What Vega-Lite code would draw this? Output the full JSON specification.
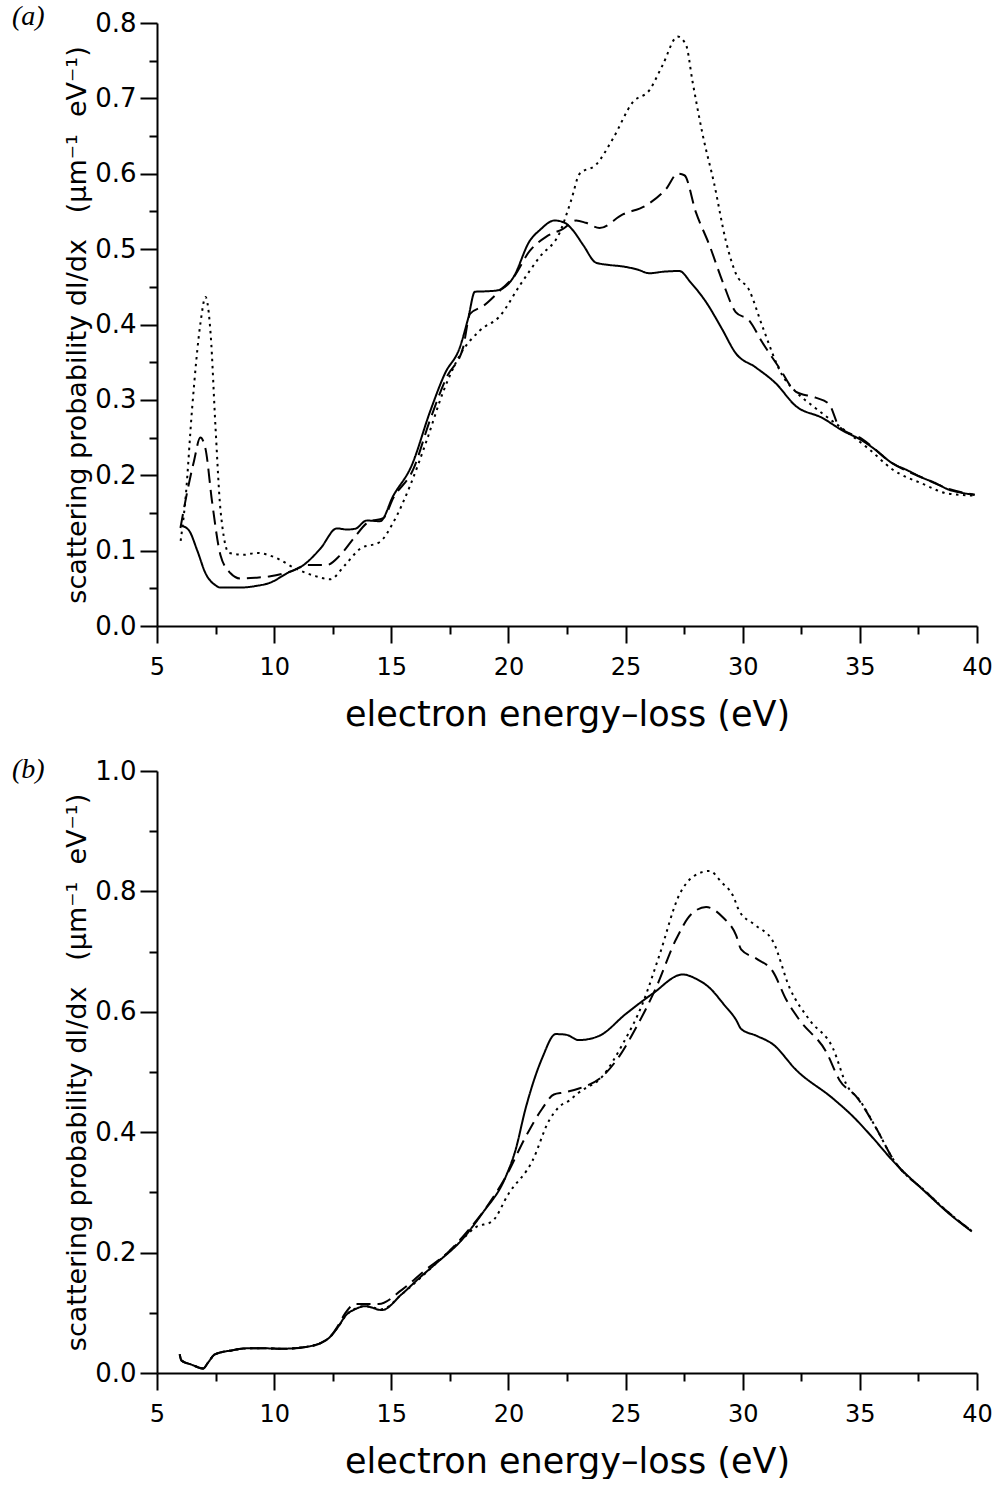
{
  "$schema": "https://vega.github.io/schema/vega-lite/v6.json",
  "background": "white",
  "padding": {"left": 12, "top": 3, "right": 5, "bottom": 0},
  "spacing": 24,
  "config": {
    "view": {"stroke": null},
    "font": "DejaVu Sans",
    "axis": {
      "grid": false,
      "domainColor": "black",
      "domainWidth": 2,
      "tickColor": "black",
      "tickWidth": 2,
      "labelColor": "black",
      "titleColor": "black",
      "labelFont": "DejaVu Sans",
      "titleFont": "DejaVu Sans",
      "titleFontWeight": "normal",
      "labelOverlap": false,
      "labelBound": false,
      "labelFlush": false
    }
  },
  "datasets": {
    "a": [
      {"x":6.05,"y":0.133,"s":"solid"},{"x":6.36,"y":0.127,"s":"solid"},{"x":6.72,"y":0.100,"s":"solid"},{"x":7.07,"y":0.070,"s":"solid"},{"x":7.5,"y":0.054,"s":"solid"},{"x":7.71,"y":0.051,"s":"solid"},{"x":8.56,"y":0.051,"s":"solid"},{"x":9.2,"y":0.053,"s":"solid"},{"x":9.84,"y":0.0576,"s":"solid"},{"x":10.55,"y":0.070,"s":"solid"},{"x":11.26,"y":0.081,"s":"solid"},{"x":11.97,"y":0.1025,"s":"solid"},{"x":12.68,"y":0.1295,"s":"solid"},{"x":13.1,"y":0.128,"s":"solid"},{"x":13.46,"y":0.129,"s":"solid"},{"x":13.95,"y":0.140,"s":"solid"},{"x":14.52,"y":0.139,"s":"solid"},{"x":15.09,"y":0.173,"s":"solid"},{"x":15.87,"y":0.213,"s":"solid"},{"x":16.65,"y":0.284,"s":"solid"},{"x":17.29,"y":0.335,"s":"solid"},{"x":17.93,"y":0.370,"s":"solid"},{"x":18.28,"y":0.408,"s":"solid"},{"x":18.57,"y":0.4435,"s":"solid"},{"x":19.0,"y":0.444,"s":"solid"},{"x":19.49,"y":0.445,"s":"solid"},{"x":20.2,"y":0.462,"s":"solid"},{"x":20.91,"y":0.511,"s":"solid"},{"x":21.33,"y":0.525,"s":"solid"},{"x":21.97,"y":0.538,"s":"solid"},{"x":22.4,"y":0.535,"s":"solid"},{"x":22.75,"y":0.525,"s":"solid"},{"x":23.2,"y":0.505,"s":"solid"},{"x":23.74,"y":0.482,"s":"solid"},{"x":24.3,"y":0.479,"s":"solid"},{"x":24.88,"y":0.477,"s":"solid"},{"x":25.5,"y":0.473,"s":"solid"},{"x":26.02,"y":0.468,"s":"solid"},{"x":26.6,"y":0.470,"s":"solid"},{"x":27.29,"y":0.471,"s":"solid"},{"x":27.8,"y":0.455,"s":"solid"},{"x":28.43,"y":0.430,"s":"solid"},{"x":29.1,"y":0.395,"s":"solid"},{"x":29.7,"y":0.362,"s":"solid"},{"x":30.56,"y":0.343,"s":"solid"},{"x":31.41,"y":0.322,"s":"solid"},{"x":32.26,"y":0.292,"s":"solid"},{"x":33.4,"y":0.276,"s":"solid"},{"x":34.25,"y":0.2595,"s":"solid"},{"x":35.1,"y":0.246,"s":"solid"},{"x":35.7,"y":0.233,"s":"solid"},{"x":36.38,"y":0.216,"s":"solid"},{"x":37.0,"y":0.207,"s":"solid"},{"x":37.65,"y":0.197,"s":"solid"},{"x":38.2,"y":0.190,"s":"solid"},{"x":38.79,"y":0.181,"s":"solid"},{"x":39.3,"y":0.177,"s":"solid"},{"x":39.9,"y":0.174,"s":"solid"},
      {"x":6.0,"y":0.13,"s":"dashed"},{"x":6.22,"y":0.167,"s":"dashed"},{"x":6.58,"y":0.219,"s":"dashed"},{"x":6.85,"y":0.250,"s":"dashed"},{"x":7.07,"y":0.235,"s":"dashed"},{"x":7.35,"y":0.165,"s":"dashed"},{"x":7.71,"y":0.094,"s":"dashed"},{"x":8.14,"y":0.070,"s":"dashed"},{"x":8.56,"y":0.063,"s":"dashed"},{"x":9.2,"y":0.064,"s":"dashed"},{"x":9.84,"y":0.066,"s":"dashed"},{"x":10.83,"y":0.0738,"s":"dashed"},{"x":11.4,"y":0.081,"s":"dashed"},{"x":12.25,"y":0.081,"s":"dashed"},{"x":12.82,"y":0.094,"s":"dashed"},{"x":13.39,"y":0.116,"s":"dashed"},{"x":14.03,"y":0.138,"s":"dashed"},{"x":14.66,"y":0.143,"s":"dashed"},{"x":15.09,"y":0.170,"s":"dashed"},{"x":15.94,"y":0.208,"s":"dashed"},{"x":16.65,"y":0.273,"s":"dashed"},{"x":17.36,"y":0.330,"s":"dashed"},{"x":18.07,"y":0.370,"s":"dashed"},{"x":18.36,"y":0.414,"s":"dashed"},{"x":18.92,"y":0.4245,"s":"dashed"},{"x":19.77,"y":0.449,"s":"dashed"},{"x":20.2,"y":0.462,"s":"dashed"},{"x":20.91,"y":0.4977,"s":"dashed"},{"x":21.62,"y":0.5166,"s":"dashed"},{"x":22.33,"y":0.527,"s":"dashed"},{"x":22.89,"y":0.538,"s":"dashed"},{"x":23.3,"y":0.535,"s":"dashed"},{"x":23.89,"y":0.528,"s":"dashed"},{"x":24.88,"y":0.546,"s":"dashed"},{"x":25.87,"y":0.558,"s":"dashed"},{"x":26.73,"y":0.580,"s":"dashed"},{"x":27.22,"y":0.600,"s":"dashed"},{"x":27.51,"y":0.598,"s":"dashed"},{"x":28.0,"y":0.549,"s":"dashed"},{"x":28.57,"y":0.506,"s":"dashed"},{"x":29.14,"y":0.457,"s":"dashed"},{"x":29.7,"y":0.4165,"s":"dashed"},{"x":30.27,"y":0.4056,"s":"dashed"},{"x":30.84,"y":0.376,"s":"dashed"},{"x":31.55,"y":0.343,"s":"dashed"},{"x":32.26,"y":0.311,"s":"dashed"},{"x":33.11,"y":0.303,"s":"dashed"},{"x":33.68,"y":0.2947,"s":"dashed"},{"x":34.11,"y":0.265,"s":"dashed"},{"x":35.1,"y":0.248,"s":"dashed"},{"x":36.38,"y":0.216,"s":"dashed"},{"x":37.65,"y":0.197,"s":"dashed"},{"x":38.79,"y":0.182,"s":"dashed"},{"x":39.9,"y":0.174,"s":"dashed"},
      {"x":6.01,"y":0.113,"s":"dotted"},{"x":6.22,"y":0.170,"s":"dotted"},{"x":6.5,"y":0.289,"s":"dotted"},{"x":6.86,"y":0.403,"s":"dotted"},{"x":7.07,"y":0.4365,"s":"dotted"},{"x":7.29,"y":0.387,"s":"dotted"},{"x":7.5,"y":0.262,"s":"dotted"},{"x":7.71,"y":0.154,"s":"dotted"},{"x":8.07,"y":0.097,"s":"dotted"},{"x":8.7,"y":0.0945,"s":"dotted"},{"x":9.27,"y":0.097,"s":"dotted"},{"x":9.98,"y":0.0917,"s":"dotted"},{"x":10.97,"y":0.0754,"s":"dotted"},{"x":11.68,"y":0.067,"s":"dotted"},{"x":12.39,"y":0.062,"s":"dotted"},{"x":13.03,"y":0.081,"s":"dotted"},{"x":13.67,"y":0.1025,"s":"dotted"},{"x":14.52,"y":0.1117,"s":"dotted"},{"x":15.09,"y":0.1377,"s":"dotted"},{"x":15.8,"y":0.186,"s":"dotted"},{"x":16.51,"y":0.246,"s":"dotted"},{"x":17.22,"y":0.311,"s":"dotted"},{"x":17.93,"y":0.3595,"s":"dotted"},{"x":18.78,"y":0.392,"s":"dotted"},{"x":19.63,"y":0.411,"s":"dotted"},{"x":20.48,"y":0.4516,"s":"dotted"},{"x":21.33,"y":0.4895,"s":"dotted"},{"x":22.19,"y":0.522,"s":"dotted"},{"x":22.68,"y":0.565,"s":"dotted"},{"x":23.04,"y":0.600,"s":"dotted"},{"x":23.74,"y":0.612,"s":"dotted"},{"x":24.46,"y":0.6465,"s":"dotted"},{"x":25.31,"y":0.695,"s":"dotted"},{"x":26.02,"y":0.711,"s":"dotted"},{"x":26.58,"y":0.744,"s":"dotted"},{"x":27.22,"y":0.782,"s":"dotted"},{"x":27.58,"y":0.771,"s":"dotted"},{"x":27.86,"y":0.722,"s":"dotted"},{"x":28.29,"y":0.652,"s":"dotted"},{"x":28.78,"y":0.587,"s":"dotted"},{"x":29.28,"y":0.511,"s":"dotted"},{"x":29.7,"y":0.468,"s":"dotted"},{"x":30.27,"y":0.446,"s":"dotted"},{"x":30.84,"y":0.3975,"s":"dotted"},{"x":31.69,"y":0.3325,"s":"dotted"},{"x":32.26,"y":0.311,"s":"dotted"},{"x":33.11,"y":0.289,"s":"dotted"},{"x":34.25,"y":0.262,"s":"dotted"},{"x":35.38,"y":0.235,"s":"dotted"},{"x":36.38,"y":0.208,"s":"dotted"},{"x":37.65,"y":0.189,"s":"dotted"},{"x":38.79,"y":0.1755,"s":"dotted"},{"x":39.9,"y":0.173,"s":"dotted"}
    ],
    "b": [
      {"x":5.97,"y":0.031,"s":"solid"},{"x":6.04,"y":0.021,"s":"solid"},{"x":6.47,"y":0.014,"s":"solid"},{"x":6.97,"y":0.0075,"s":"solid"},{"x":7.18,"y":0.0174,"s":"solid"},{"x":7.47,"y":0.031,"s":"solid"},{"x":8.18,"y":0.0375,"s":"solid"},{"x":8.89,"y":0.041,"s":"solid"},{"x":9.6,"y":0.041,"s":"solid"},{"x":10.32,"y":0.0403,"s":"solid"},{"x":11.46,"y":0.044,"s":"solid"},{"x":12.32,"y":0.0576,"s":"solid"},{"x":12.75,"y":0.0777,"s":"solid"},{"x":13.03,"y":0.0944,"s":"solid"},{"x":13.46,"y":0.106,"s":"solid"},{"x":13.89,"y":0.111,"s":"solid"},{"x":14.6,"y":0.1045,"s":"solid"},{"x":15.45,"y":0.131,"s":"solid"},{"x":16.2,"y":0.158,"s":"solid"},{"x":16.88,"y":0.181,"s":"solid"},{"x":18.02,"y":0.2216,"s":"solid"},{"x":18.88,"y":0.265,"s":"solid"},{"x":19.88,"y":0.3256,"s":"solid"},{"x":20.3,"y":0.37,"s":"solid"},{"x":20.73,"y":0.439,"s":"solid"},{"x":21.44,"y":0.523,"s":"solid"},{"x":22.02,"y":0.563,"s":"solid"},{"x":22.45,"y":0.562,"s":"solid"},{"x":23.01,"y":0.553,"s":"solid"},{"x":23.87,"y":0.560,"s":"solid"},{"x":25.01,"y":0.5965,"s":"solid"},{"x":26.15,"y":0.630,"s":"solid"},{"x":27.44,"y":0.662,"s":"solid"},{"x":28.0,"y":0.655,"s":"solid"},{"x":28.58,"y":0.640,"s":"solid"},{"x":29.2,"y":0.612,"s":"solid"},{"x":29.72,"y":0.5864,"s":"solid"},{"x":29.93,"y":0.5717,"s":"solid"},{"x":30.6,"y":0.560,"s":"solid"},{"x":31.29,"y":0.546,"s":"solid"},{"x":32.29,"y":0.503,"s":"solid"},{"x":33.85,"y":0.456,"s":"solid"},{"x":34.71,"y":0.426,"s":"solid"},{"x":35.5,"y":0.393,"s":"solid"},{"x":36.42,"y":0.352,"s":"solid"},{"x":37.85,"y":0.2987,"s":"solid"},{"x":38.8,"y":0.265,"s":"solid"},{"x":39.78,"y":0.235,"s":"solid"},
      {"x":5.97,"y":0.031,"s":"dashed"},{"x":6.04,"y":0.021,"s":"dashed"},{"x":6.47,"y":0.014,"s":"dashed"},{"x":6.97,"y":0.0075,"s":"dashed"},{"x":7.18,"y":0.0174,"s":"dashed"},{"x":7.47,"y":0.031,"s":"dashed"},{"x":8.18,"y":0.0375,"s":"dashed"},{"x":8.89,"y":0.041,"s":"dashed"},{"x":9.6,"y":0.041,"s":"dashed"},{"x":10.32,"y":0.0403,"s":"dashed"},{"x":11.46,"y":0.044,"s":"dashed"},{"x":12.32,"y":0.0576,"s":"dashed"},{"x":12.75,"y":0.080,"s":"dashed"},{"x":13.03,"y":0.099,"s":"dashed"},{"x":13.46,"y":0.1146,"s":"dashed"},{"x":14.46,"y":0.1146,"s":"dashed"},{"x":15.45,"y":0.138,"s":"dashed"},{"x":16.45,"y":0.171,"s":"dashed"},{"x":17.45,"y":0.2015,"s":"dashed"},{"x":18.31,"y":0.238,"s":"dashed"},{"x":19.0,"y":0.272,"s":"dashed"},{"x":19.88,"y":0.3256,"s":"dashed"},{"x":20.73,"y":0.392,"s":"dashed"},{"x":21.44,"y":0.439,"s":"dashed"},{"x":21.94,"y":0.4626,"s":"dashed"},{"x":22.37,"y":0.466,"s":"dashed"},{"x":23.01,"y":0.4726,"s":"dashed"},{"x":24.01,"y":0.4927,"s":"dashed"},{"x":24.73,"y":0.526,"s":"dashed"},{"x":25.44,"y":0.573,"s":"dashed"},{"x":26.3,"y":0.640,"s":"dashed"},{"x":27.15,"y":0.720,"s":"dashed"},{"x":27.8,"y":0.762,"s":"dashed"},{"x":28.44,"y":0.774,"s":"dashed"},{"x":29.15,"y":0.757,"s":"dashed"},{"x":29.72,"y":0.727,"s":"dashed"},{"x":29.93,"y":0.7037,"s":"dashed"},{"x":30.6,"y":0.688,"s":"dashed"},{"x":31.29,"y":0.6668,"s":"dashed"},{"x":31.86,"y":0.620,"s":"dashed"},{"x":32.43,"y":0.586,"s":"dashed"},{"x":33.57,"y":0.533,"s":"dashed"},{"x":34.14,"y":0.486,"s":"dashed"},{"x":34.85,"y":0.459,"s":"dashed"},{"x":35.71,"y":0.4057,"s":"dashed"},{"x":36.42,"y":0.355,"s":"dashed"},{"x":37.85,"y":0.300,"s":"dashed"},{"x":38.8,"y":0.266,"s":"dashed"},{"x":39.78,"y":0.236,"s":"dashed"},
      {"x":5.97,"y":0.031,"s":"dotted"},{"x":6.04,"y":0.021,"s":"dotted"},{"x":6.47,"y":0.014,"s":"dotted"},{"x":6.97,"y":0.0075,"s":"dotted"},{"x":7.18,"y":0.0174,"s":"dotted"},{"x":7.47,"y":0.031,"s":"dotted"},{"x":8.18,"y":0.0375,"s":"dotted"},{"x":8.89,"y":0.041,"s":"dotted"},{"x":9.6,"y":0.041,"s":"dotted"},{"x":10.32,"y":0.0403,"s":"dotted"},{"x":11.46,"y":0.044,"s":"dotted"},{"x":12.32,"y":0.0576,"s":"dotted"},{"x":12.75,"y":0.0777,"s":"dotted"},{"x":13.03,"y":0.094,"s":"dotted"},{"x":13.46,"y":0.107,"s":"dotted"},{"x":13.89,"y":0.111,"s":"dotted"},{"x":14.6,"y":0.106,"s":"dotted"},{"x":15.45,"y":0.131,"s":"dotted"},{"x":16.88,"y":0.181,"s":"dotted"},{"x":18.02,"y":0.2216,"s":"dotted"},{"x":18.6,"y":0.242,"s":"dotted"},{"x":19.3,"y":0.2517,"s":"dotted"},{"x":20.02,"y":0.2987,"s":"dotted"},{"x":21.02,"y":0.352,"s":"dotted"},{"x":21.73,"y":0.419,"s":"dotted"},{"x":22.16,"y":0.442,"s":"dotted"},{"x":22.59,"y":0.4525,"s":"dotted"},{"x":23.01,"y":0.466,"s":"dotted"},{"x":24.01,"y":0.4927,"s":"dotted"},{"x":24.87,"y":0.546,"s":"dotted"},{"x":25.72,"y":0.613,"s":"dotted"},{"x":26.44,"y":0.6935,"s":"dotted"},{"x":27.29,"y":0.794,"s":"dotted"},{"x":27.9,"y":0.825,"s":"dotted"},{"x":28.58,"y":0.834,"s":"dotted"},{"x":29.1,"y":0.815,"s":"dotted"},{"x":29.57,"y":0.794,"s":"dotted"},{"x":29.86,"y":0.767,"s":"dotted"},{"x":30.5,"y":0.745,"s":"dotted"},{"x":31.29,"y":0.717,"s":"dotted"},{"x":32.0,"y":0.640,"s":"dotted"},{"x":32.86,"y":0.586,"s":"dotted"},{"x":33.85,"y":0.5395,"s":"dotted"},{"x":34.43,"y":0.479,"s":"dotted"},{"x":35.0,"y":0.4525,"s":"dotted"},{"x":35.71,"y":0.4057,"s":"dotted"},{"x":36.42,"y":0.355,"s":"dotted"},{"x":37.85,"y":0.300,"s":"dotted"},{"x":38.8,"y":0.266,"s":"dotted"},{"x":39.78,"y":0.236,"s":"dotted"}
    ]
  },
  "vconcat": [
    {
      "width": 820,
      "height": 603,
      "data": {"name": "a"},
      "title": {"text": "(a)", "anchor": "start", "frame": "group", "dx": -145, "offset": -43, "baseline": "alphabetic", "font": "Liberation Serif", "fontStyle": "italic", "fontWeight": "normal", "fontSize": 28, "color": "black"},
      "mark": {"type": "line", "stroke": "black", "strokeWidth": 2, "interpolate": "monotone"},
      "encoding": {
        "x": {
          "field": "x", "type": "quantitative",
          "scale": {"domain": [5, 40], "nice": false, "zero": false},
          "axis": {
            "title": "electron energy–loss (eV)",
            "values": [5, 7.5, 10, 12.5, 15, 17.5, 20, 22.5, 25, 27.5, 30, 32.5, 35, 37.5, 40],
            "tickSize": {"condition": {"test": "datum.value % 5 === 0", "value": 17}, "value": 8},
            "labelExpr": "datum.value % 5 === 0 ? datum.label : ''",
            "labelFontSize": 24, "labelPadding": 12,
            "titleFontSize": 35, "titlePadding": 18
          }
        },
        "y": {
          "field": "y", "type": "quantitative",
          "scale": {"domain": [0, 0.8], "nice": false},
          "axis": {
            "title": "scattering probability dI/dx\u00a0\u00a0\u00a0(μm⁻¹\u00a0\u00a0eV⁻¹)",
            "values": [0, 0.05, 0.1, 0.15, 0.2, 0.25, 0.3, 0.35, 0.4, 0.45, 0.5, 0.55, 0.6, 0.65, 0.7, 0.75, 0.8],
            "tickSize": {"condition": {"test": "abs(datum.value*10 - round(datum.value*10)) < 0.001", "value": 17}, "value": 8},
            "labelExpr": "abs(datum.value*10 - round(datum.value*10)) < 0.001 ? format(datum.value, '.1f') : ''",
            "labelFontSize": 26, "labelPadding": 4,
            "titleFontSize": 27, "titlePadding": 3
          }
        },
        "strokeDash": {
          "field": "s", "type": "nominal",
          "scale": {"domain": ["solid", "dashed", "dotted"], "range": [[1, 0], [14, 7], [2.5, 4.5]]},
          "legend": null
        }
      }
    },
    {
      "width": 820,
      "height": 602,
      "data": {"name": "b"},
      "title": {"text": "(b)", "anchor": "start", "frame": "group", "dx": -145, "offset": -48, "baseline": "alphabetic", "font": "Liberation Serif", "fontStyle": "italic", "fontWeight": "normal", "fontSize": 28, "color": "black"},
      "mark": {"type": "line", "stroke": "black", "strokeWidth": 2, "interpolate": "monotone"},
      "encoding": {
        "x": {
          "field": "x", "type": "quantitative",
          "scale": {"domain": [5, 40], "nice": false, "zero": false},
          "axis": {
            "title": "electron energy–loss (eV)",
            "values": [5, 7.5, 10, 12.5, 15, 17.5, 20, 22.5, 25, 27.5, 30, 32.5, 35, 37.5, 40],
            "tickSize": {"condition": {"test": "datum.value % 5 === 0", "value": 17}, "value": 8},
            "labelExpr": "datum.value % 5 === 0 ? datum.label : ''",
            "labelFontSize": 24, "labelPadding": 12,
            "titleFontSize": 35, "titlePadding": 18
          }
        },
        "y": {
          "field": "y", "type": "quantitative",
          "scale": {"domain": [0, 1.0], "nice": false},
          "axis": {
            "title": "scattering probability dI/dx\u00a0\u00a0\u00a0(μm⁻¹\u00a0\u00a0eV⁻¹)",
            "values": [0, 0.1, 0.2, 0.3, 0.4, 0.5, 0.6, 0.7, 0.8, 0.9, 1.0],
            "tickSize": {"condition": {"test": "abs(datum.value*5 - round(datum.value*5)) < 0.001", "value": 17}, "value": 8},
            "labelExpr": "abs(datum.value*5 - round(datum.value*5)) < 0.001 ? format(datum.value, '.1f') : ''",
            "labelFontSize": 26, "labelPadding": 4,
            "titleFontSize": 27, "titlePadding": 3
          }
        },
        "strokeDash": {
          "field": "s", "type": "nominal",
          "scale": {"domain": ["solid", "dashed", "dotted"], "range": [[1, 0], [14, 7], [2.5, 4.5]]},
          "legend": null
        }
      }
    }
  ]
}
